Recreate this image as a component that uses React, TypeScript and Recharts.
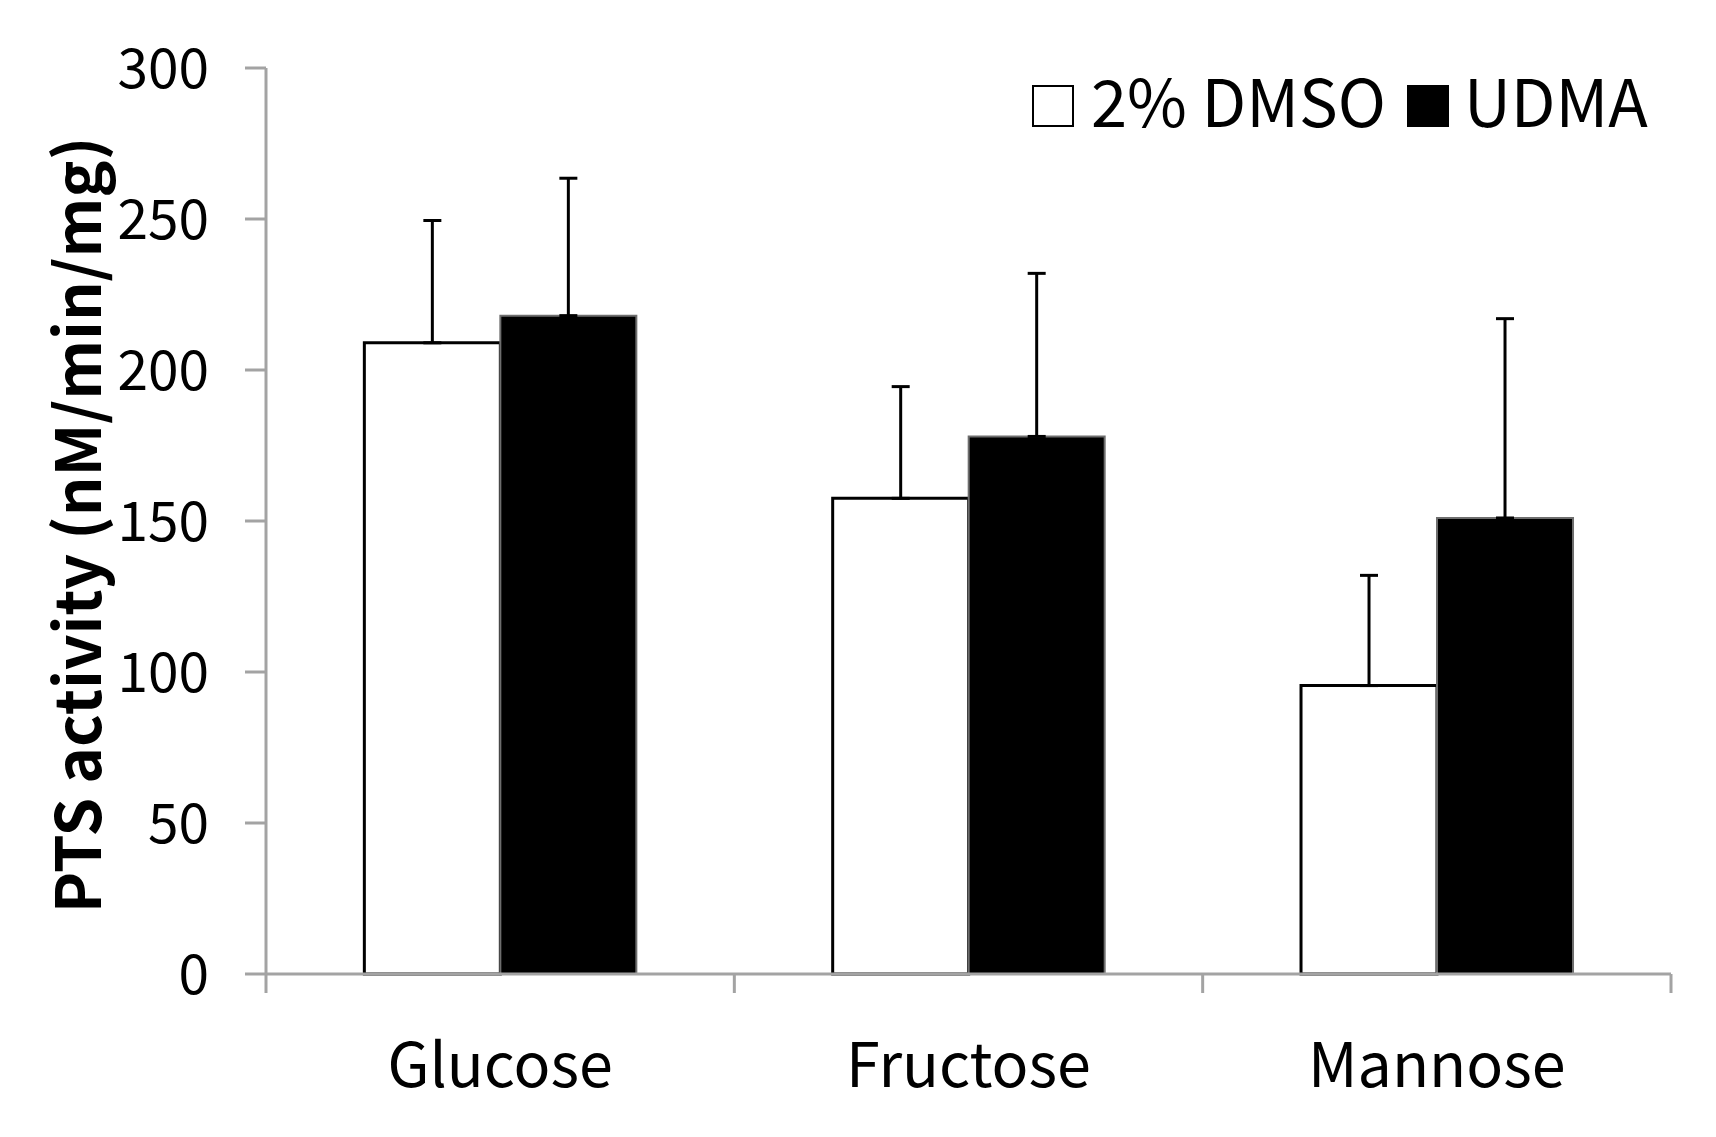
import { BarChart, Bar, XAxis, YAxis, ErrorBar, Legend } from "recharts";

const categories = ["Glucose", "Fructose", "Mannose"];
const dmsoValues = [209, 157.5, 95.5];
const dmsoSd = [40.5, 37, 36.5];
const udmaValues = [218, 178, 151];
const udmaSd = [45.5, 54, 66];
const yTicks = [0, 50, 100, 150, 200, 250, 300];
const seriesNames = ["2% DMSO", "UDMA"];

const FONT = '"Noto Sans CJK KR", "Noto Sans", sans-serif';
const AXIS = "#a3a3a3";
const X_TICK_SIZE = 19;
const X_TICK_MARGIN = 51;

const data = categories.map((name, i) => ({
  name,
  dmso: dmsoValues[i],
  dmsoErr: [0, dmsoSd[i]],
  udma: udmaValues[i],
  udmaErr: [0, udmaSd[i]],
}));

// Excel-style category axis: ticks sit on the band edges, label in the middle
const CategoryTick = (props: any) => {
  const { x, y, payload, index, visibleTicksCount, width } = props;
  let half = width && visibleTicksCount ? width / visibleTicksCount / 2 : 0;
  if (!half && payload && payload.offset) half = payload.offset;
  const axisY = y - X_TICK_SIZE - X_TICK_MARGIN;
  return (
    <g>
      <line x1={x - half} x2={x - half} y1={axisY} y2={axisY + X_TICK_SIZE} stroke={AXIS} strokeWidth={3} />
      {index === visibleTicksCount - 1 && (
        <line x1={x + half} x2={x + half} y1={axisY} y2={axisY + X_TICK_SIZE} stroke={AXIS} strokeWidth={3} />
      )}
      <text x={x} y={y} dy="0.71em" textAnchor="middle" fill="#000" fontSize={61} fontFamily={FONT}>
        {payload.value}
      </text>
    </g>
  );
};

const YTitle = (props: any) => {
  const { viewBox } = props;
  const cx = 74;
  const cy = (viewBox?.y ?? 0) + (viewBox?.height ?? 0) / 2 + 4;
  return (
    <text
      x={cx}
      y={cy}
      transform={`rotate(-90, ${cx}, ${cy})`}
      textAnchor="middle"
      dominantBaseline="central"
      fontFamily={FONT}
      fontWeight="bold"
      fontSize={62}
      fill="#000"
    >
      PTS activity (nM/min/mg)
    </text>
  );
};

const LegendBox = () => (
  <div style={{ display: "flex", alignItems: "center", fontFamily: FONT, fontSize: 65, lineHeight: 1, color: "#000" }}>
    <div style={{ width: 38, height: 38, border: "2px solid #000", background: "#fff" }} />
    <span style={{ marginLeft: 17, position: "relative", top: -6 }}>{seriesNames[0]}</span>
    <div style={{ width: 42, height: 42, background: "#000", marginLeft: 21 }} />
    <span style={{ marginLeft: 15, position: "relative", top: -6 }}>{seriesNames[1]}</span>
  </div>
);

const App = () => {
  return (
    <div style={{ position: "absolute", left: 0, top: 0, background: "#fff" }}>
      <BarChart
        width={1716}
        height={1137}
        data={data}
        margin={{ top: 68, right: 45, bottom: 0, left: 0 }}
        barCategoryGap="21%"
        barGap={0}
      >
        <XAxis
          dataKey="name"
          height={163}
          stroke={AXIS}
          strokeWidth={3}
          tickLine={false}
          tickSize={X_TICK_SIZE}
          tickMargin={X_TICK_MARGIN}
          tick={<CategoryTick />}
          interval={0}
        />
        <YAxis
          width={266}
          domain={[0, 300]}
          ticks={yTicks}
          interval={0}
          stroke={AXIS}
          strokeWidth={3}
          tickSize={21}
          tickMargin={36}
          tickLine={{ stroke: AXIS, strokeWidth: 3 }}
          tick={{ fill: "#000", fontSize: 55, fontFamily: FONT }}
          label={<YTitle />}
        />
        <Legend
          layout="horizontal"
          verticalAlign="middle"
          align="center"
          wrapperStyle={{ top: 73, left: 1032, width: "auto" }}
          content={<LegendBox />}
        />
        <Bar dataKey="dmso" name={seriesNames[0]} fill="#fff" stroke="#000" strokeWidth={3} isAnimationActive={false}>
          <ErrorBar dataKey="dmsoErr" direction="y" width={9} stroke="#000" strokeWidth={3} />
        </Bar>
        <Bar dataKey="udma" name={seriesNames[1]} fill="#000" stroke="#6e6e6e" strokeWidth={2} isAnimationActive={false}>
          <ErrorBar dataKey="udmaErr" direction="y" width={9} stroke="#000" strokeWidth={3} />
        </Bar>
      </BarChart>
    </div>
  );
};

export default App;
